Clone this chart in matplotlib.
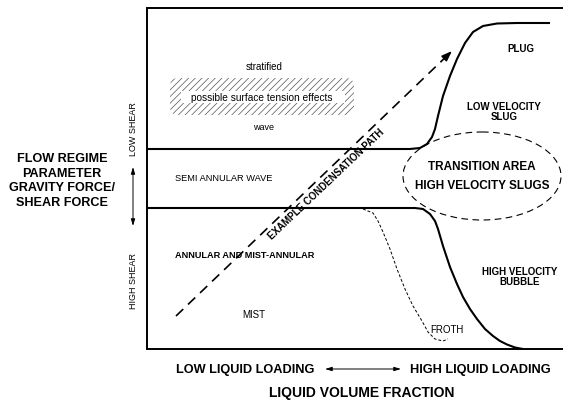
import matplotlib
matplotlib.use("Agg")
import matplotlib.pyplot as plt
from matplotlib.patches import Ellipse, FancyBboxPatch, Rectangle

plt.rcParams["font.family"] = ["Liberation Sans", "DejaVu Sans"]
plt.rcParams["hatch.linewidth"] = 0.5

# ---- diagram geometry (pixel-like coordinates, y grows downward) ----
frame_x = [563, 147, 147, 563]
frame_y = [9, 9, 350, 350]

# upper boundary: stratified / semi-annular, rising into plug flow
upper_x = [147, 410, 420, 427, 432, 435, 438, 443, 450, 457, 465, 473, 483, 497, 517, 550]
upper_y = [150, 150, 149, 145, 138, 130, 117, 97, 77, 60, 44, 33, 27, 24.5, 24, 24]

# lower boundary: semi-annular / annular, falling into bubble flow
lower_x = [147, 415, 423, 430, 435, 438, 443, 450, 457, 463, 470, 477, 485, 493, 500, 507, 515, 523]
lower_y = [209, 209, 210, 215, 222, 230, 247, 268, 285, 298, 310, 320, 330, 337, 342, 345.5, 348.5, 350]

# froth region outline
froth_x = [363, 373, 378, 383, 390, 397, 405, 413, 422, 428, 435, 443, 448]
froth_y = [210, 214, 222, 233, 250, 270, 290, 307, 322, 333, 340, 342, 340]

# example condensation path (start, end)
path_x = [176, 452]
path_y = [317, 52]

# transition area ellipse: centre, width, height
trans_center = (482, 177)
trans_size = (158, 88)

# surface-tension band: x0, y0, width, height, and its clear caption strip
band = (170, 79, 184, 37)
band_strip = (181, 92, 164, 12)

regions = [
    ("stratified", 264, 67, "center", 7, "normal"),
    ("wave", 264, 127, "center", 6.5, "normal"),
    ("PLUG", 521, 49, "center", 7, "bold"),
    ("LOW VELOCITY\nSLUG", 504, 112, "center", 7, "bold"),
    ("SEMI ANNULAR WAVE", 175, 179, "left", 6.7, "normal"),
    ("ANNULAR AND MIST-ANNULAR", 175, 255, "left", 6.6, "bold"),
    ("MIST", 254, 315, "center", 7, "normal"),
    ("HIGH VELOCITY\nBUBBLE", 520, 277, "center", 7, "bold"),
    ("FROTH", 447, 330, "center", 7, "normal"),
]

fig = plt.figure(figsize=(5.63, 4.02), dpi=100)
ax = fig.add_axes([0, 0, 1, 1])
ax.set_xlim(0, 563)
ax.set_ylim(402, 0)
ax.axis("off")

ax.plot(frame_x, frame_y, color="black", lw=1.4, solid_joinstyle="miter")
ax.plot(upper_x, upper_y, color="black", lw=1.5, solid_capstyle="butt")
ax.plot(lower_x, lower_y, color="black", lw=1.5, solid_capstyle="butt")
ax.plot(froth_x, froth_y, color="black", lw=0.7, dashes=(3, 2))

# hatched band with a clear strip for its caption
bx, by, bw, bh = band
ax.add_patch(FancyBboxPatch((bx + 4, by + 4), bw - 8, bh - 8,
                            boxstyle="round,pad=4,rounding_size=8",
                            facecolor="white", edgecolor="#555555", linewidth=0,
                            hatch="/////"))
sx, sy, sw, sh = band_strip
ax.add_patch(Rectangle((sx, sy), sw, sh, facecolor="white", edgecolor="none"))
ax.text(bx + bw / 2, sy + sh / 2, "possible surface tension effects",
        ha="center", va="center", fontsize=7.3)

# transition ellipse
ax.add_patch(Ellipse(trans_center, trans_size[0], trans_size[1], facecolor="none",
                     edgecolor="black", lw=0.8, linestyle=(0, (6, 4))))
ax.text(trans_center[0], trans_center[1] - 10, "TRANSITION AREA", ha="center", va="center",
        fontsize=8.5, fontweight="bold")
ax.text(trans_center[0], trans_center[1] + 9, "HIGH VELOCITY SLUGS", ha="center", va="center",
        fontsize=8.5, fontweight="bold")

# condensation path: dashed shaft plus solid head
dx = path_x[1] - path_x[0]
dy = path_y[1] - path_y[0]
f = 0.96
ax.plot([path_x[0], path_x[0] + f * dx], [path_y[0], path_y[0] + f * dy],
        color="black", lw=1.2, dashes=(6, 4))
ax.annotate("", xy=(path_x[1], path_y[1]),
            xytext=(path_x[0] + f * dx, path_y[0] + f * dy),
            arrowprops=dict(arrowstyle="-|>,head_length=0.6,head_width=0.22",
                            color="black", lw=1.2, shrinkA=0, shrinkB=0))
ax.text(326, 184, "EXAMPLE CONDENSATION PATH", rotation=43.5, rotation_mode="anchor",
        ha="center", va="center", fontsize=7, fontweight="bold")

for label, x, y, ha, size, weight in regions:
    ax.text(x, y, label, ha=ha, va="center", fontsize=size, fontweight=weight,
            linespacing=1.0)

# y-axis description
ax.text(62, 181, "FLOW REGIME\nPARAMETER\nGRAVITY FORCE/\nSHEAR FORCE", ha="center",
        va="center", fontsize=9.1, fontweight="bold", linespacing=1.3)
ax.text(133, 129, "LOW SHEAR", rotation=90, ha="center", va="center", fontsize=6.5)
ax.text(133, 281, "HIGH SHEAR", rotation=90, ha="center", va="center", fontsize=6.5)
ax.annotate("", xy=(133, 168), xytext=(133, 227),
            arrowprops=dict(arrowstyle="<|-|>,head_length=0.4,head_width=0.12",
                            color="black", lw=0.7, shrinkA=0, shrinkB=0))

# x-axis description
ax.text(176, 370, "LOW LIQUID LOADING", ha="left", va="center", fontsize=9.2, fontweight="bold")
ax.text(551, 370, "HIGH LIQUID LOADING", ha="right", va="center", fontsize=9.2, fontweight="bold")
ax.annotate("", xy=(325, 370), xytext=(401, 370),
            arrowprops=dict(arrowstyle="<|-|>,head_length=0.4,head_width=0.12",
                            color="black", lw=0.7, shrinkA=0, shrinkB=0))
ax.text(362, 393, "LIQUID VOLUME FRACTION", ha="center", va="center", fontsize=10,
        fontweight="bold")

fig.savefig("out.png", dpi=100)
